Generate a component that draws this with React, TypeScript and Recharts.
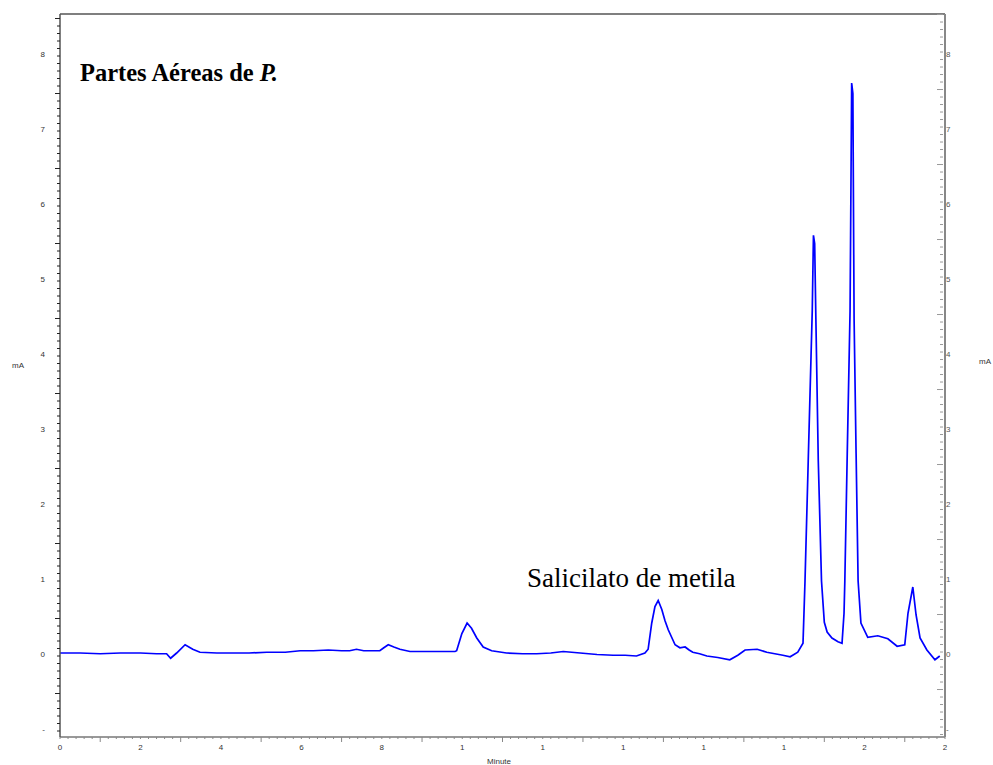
import React from "react";
import { Line, LineChart, ReferenceLine, XAxis, YAxis } from "recharts";

// retention time (min) and detector signal
const retentionTime = [
  0, 0.5, 1.0, 1.5, 2.0, 2.4, 2.65, 2.75, 2.9, 3.11, 3.3, 3.48, 3.9, 4.31, 4.7,
  5.14, 5.6, 5.97, 6.3, 6.67, 7.0, 7.2, 7.37, 7.55, 7.8, 7.95, 8.05, 8.16, 8.3,
  8.45, 8.7, 9.0, 9.2, 9.5, 9.82, 9.86, 9.99, 10.12, 10.23, 10.36, 10.52, 10.73,
  11.1, 11.5, 11.85, 12.2, 12.51, 12.93, 13.35, 13.75, 14.05, 14.33, 14.54,
  14.62, 14.71, 14.79, 14.87, 14.96, 15.04, 15.12, 15.29, 15.41, 15.54, 15.64,
  15.73, 15.9, 16.08, 16.35, 16.65, 16.85, 17.03, 17.33, 17.57, 17.97, 18.15,
  18.34, 18.47, 18.52, 18.6, 18.67, 18.7, 18.73, 18.76, 18.79, 18.85, 18.93,
  19.0, 19.07, 19.19, 19.34, 19.44, 19.49, 19.51, 19.57, 19.64, 19.68, 19.71,
  19.74, 19.79, 19.84, 19.91, 20.08, 20.33, 20.58, 20.81, 21.0, 21.08, 21.2,
  21.28, 21.38, 21.55, 21.75, 21.87,
];

const signal = [
  0.04, 0.04, 0.03, 0.04, 0.04, 0.03, 0.03, -0.03, 0.04, 0.15, 0.09, 0.05, 0.04, 0.04, 0.04,
  0.05, 0.05, 0.07, 0.07, 0.08, 0.07, 0.07, 0.09, 0.07, 0.07, 0.07, 0.11, 0.15, 0.12,
  0.09, 0.06, 0.06, 0.06, 0.06, 0.06, 0.07, 0.3, 0.44, 0.37, 0.24, 0.12, 0.07,
  0.04, 0.03, 0.03, 0.04, 0.06, 0.04, 0.02, 0.01, 0.01, 0.0, 0.04,
  0.09, 0.44, 0.66, 0.74, 0.62, 0.47, 0.35, 0.15, 0.11, 0.12, 0.08,
  0.05, 0.03, 0.0, -0.02, -0.05, 0.01, 0.08, 0.09, 0.05, 0.01, -0.01,
  0.05, 0.17, 1.0, 2.6, 4.0, 4.6, 5.61, 5.5, 4.5, 2.6, 1.0,
  0.45, 0.32, 0.24, 0.19, 0.17, 0.57, 1.0, 2.7, 4.6, 7.64, 7.5,
  4.5, 2.7, 1.0, 0.44, 0.25, 0.27, 0.23, 0.13, 0.15, 0.57, 0.92,
  0.55, 0.24, 0.08, -0.05, 0.0,
];

const xLabelValues = [0, 2, 4, 6, 8, 10, 12, 14, 16, 18, 20, 22];
const xLabelText = ["0", "2", "4", "6", "8", "1", "1", "1", "1", "1", "2", "2"];

const yLabelValues = [-1, 0, 1, 2, 3, 4, 5, 6, 7, 8];
const yLabelText = ["-", "0", "1", "2", "3", "4", "5", "6", "7", "8"];

const data = retentionTime.map((t, i) => ({ t, v: signal[i] }));

const X_DOMAIN: [number, number] = [0, 22];
const LEFT_DOMAIN: [number, number] = [-1.08, 8.56];
// right scale sits a few pixels higher than the left one
const RIGHT_DOMAIN: [number, number] = [-1.133, 8.507];

// minor tick positions: every 0.2 min on x, every 0.1 unit on y
const xTicks: number[] = [];
for (let i = 0; i <= 110; i++) xTicks.push(Math.round(i * 2) / 10);
const leftTicks: number[] = [];
for (let i = -10; i <= 85; i++) leftTicks.push(i / 10);
const rightTicks: number[] = [];
for (let i = -11; i <= 85; i++) rightTicks.push(i / 10);

const near = (a: number, b: number) => Math.abs(a - b) < 1e-6;
const isInt = (v: number) => near(v, Math.round(v));
const isHalf = (v: number) => !isInt(v) && near(v * 2, Math.round(v * 2));

const tickFont = { fontFamily: "'Liberation Sans', Arial, sans-serif", fontSize: 8 };

function labelFor(v: number) {
  const idx = yLabelValues.findIndex((y) => near(y, v));
  return idx >= 0 ? yLabelText[idx] : null;
}

function LeftTick(props: any) {
  const { x, y, payload } = props;
  const v = payload.value as number;
  const len = isHalf(v) ? 5 : 3;
  const label = labelFor(v);
  return (
    <g>
      <line x1={x - len} x2={x} y1={y} y2={y} stroke="#222" strokeWidth={1} />
      {label !== null && (
        <text x={x - 15} y={y + 1} textAnchor="end" fill="#333" {...tickFont}>
          {label}
        </text>
      )}
    </g>
  );
}

function RightTick(props: any) {
  const { x, y, payload } = props;
  const v = payload.value as number;
  const len = isHalf(v) ? 6 : 3;
  const label = labelFor(v);
  return (
    <g>
      <line x1={x - len - 2} x2={x - 2} y1={y} y2={y} stroke="#999" strokeWidth={1} />
      {label !== null && (
        <text x={x + 1} y={y + 5} textAnchor="start" fill="#555" {...tickFont}>
          {label}
        </text>
      )}
    </g>
  );
}

function BottomTick(props: any) {
  const { x, y, payload } = props;
  const v = payload.value as number;
  const odd = isInt(v) && Math.round(v) % 2 === 1;
  const len = odd ? 5 : 2;
  const idx = xLabelValues.findIndex((l) => near(l, v));
  return (
    <g>
      <line x1={x} x2={x} y1={y} y2={y + len} stroke="#888" strokeWidth={1} />
      {idx >= 0 && (
        <text x={x} y={y + 13} textAnchor="middle" fill="#333" {...tickFont}>
          {xLabelText[idx]}
        </text>
      )}
    </g>
  );
}

export default function App() {
  return (
    <div style={{ position: "absolute", left: 0, top: 0, width: 993, height: 765, background: "#fff" }}>
      <LineChart width={993} height={765} data={data} margin={{ top: 14, right: 0, bottom: 0, left: 0 }}>
        <XAxis
          dataKey="t"
          type="number"
          domain={X_DOMAIN}
          allowDataOverflow
          ticks={xTicks}
          interval={0}
          tickSize={0}
          tickMargin={0}
          height={28}
          tickLine={false}
          tick={<BottomTick />}
          axisLine={{ stroke: "#777", strokeWidth: 1.5 }}
        />
        <YAxis
          yAxisId="left"
          type="number"
          domain={LEFT_DOMAIN}
          allowDataOverflow
          ticks={leftTicks}
          interval={0}
          tickSize={0}
          tickMargin={0}
          width={60}
          tickLine={false}
          tick={<LeftTick />}
          axisLine={{ stroke: "#555", strokeWidth: 1.5 }}
        />
        <YAxis
          yAxisId="right"
          orientation="right"
          type="number"
          domain={RIGHT_DOMAIN}
          allowDataOverflow
          ticks={rightTicks}
          interval={0}
          tickSize={0}
          tickMargin={0}
          width={48}
          tickLine={false}
          tick={<RightTick />}
          axisLine={{ stroke: "#888", strokeWidth: 2 }}
        />
        <ReferenceLine yAxisId="left" y={LEFT_DOMAIN[1]} stroke="#000" strokeWidth={1.2} />
        <Line
          yAxisId="left"
          dataKey="v"
          type="linear"
          stroke="#0000ff"
          strokeWidth={1.7}
          dot={false}
          isAnimationActive={false}
        />
      </LineChart>
      <svg
        width={993}
        height={765}
        style={{ position: "absolute", left: 0, top: 0, pointerEvents: "none" }}
      >
        <text x={80} y={81} fontFamily="'Liberation Serif', 'Times New Roman', serif" fontSize={24.5} fontWeight="bold" fill="#000">
          Partes Aéreas de <tspan fontStyle="italic">P.</tspan>
        </text>
        <text x={527} y={587} fontFamily="'Liberation Serif', 'Times New Roman', serif" fontSize={27} fill="#000">
          Salicilato de metila
        </text>
        <text x={18} y={368} textAnchor="middle" fill="#333" {...tickFont}>
          mA
        </text>
        <text x={985} y={364} textAnchor="middle" fill="#333" {...tickFont}>
          mA
        </text>
        <text x={499} y={764} textAnchor="middle" fill="#333" {...tickFont}>
          Minute
        </text>
      </svg>
    </div>
  );
}
